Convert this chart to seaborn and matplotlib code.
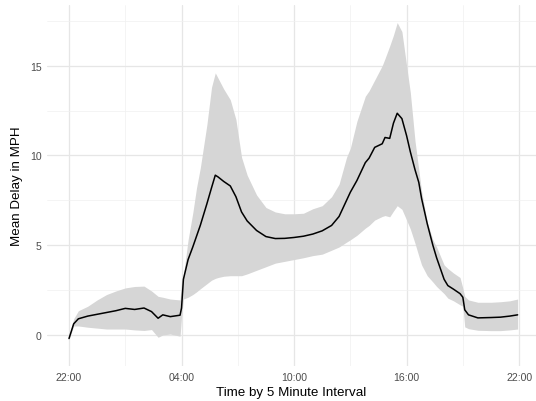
import numpy as np
import pandas as pd
import seaborn as sns
import matplotlib
matplotlib.use("Agg")
import matplotlib.pyplot as plt
from matplotlib.ticker import MultipleLocator

# hours after 22:00
hours = [0, 0.25, 0.5, 1.0, 1.5, 2.0, 2.5, 3.0, 3.5, 4.0, 4.4, 4.75, 5.0, 5.4, 5.92,
         6.0, 6.1, 6.35, 6.6, 6.8, 7.0, 7.35, 7.6, 7.8, 7.95, 8.25, 8.6, 8.9, 9.2, 9.5,
         10.0, 10.5, 11.0, 11.5, 12.0, 12.5, 13.0, 13.5, 14.0, 14.4, 14.8, 15.0, 15.35,
         15.8, 16.0, 16.3, 16.7, 16.85, 17.1, 17.3, 17.5, 17.75, 18.0, 18.2, 18.45, 18.65,
         18.8, 19.1, 19.4, 19.6, 20.0, 20.2, 20.5, 20.85, 21.0, 21.1, 21.3, 21.8, 22.5,
         23.0, 23.5, 23.92]

mean_delay = [-0.2, 0.62, 0.9, 1.05, 1.15, 1.25, 1.35, 1.48, 1.42, 1.5, 1.3, 0.93, 1.12, 1.02, 1.1,
              1.5, 3.1, 4.2, 4.9, 5.5, 6.1, 7.3, 8.2, 8.9, 8.8, 8.55, 8.3, 7.7, 6.85, 6.35,
              5.82, 5.48, 5.37, 5.38, 5.43, 5.5, 5.62, 5.8, 6.1, 6.6, 7.5, 7.95, 8.6,
              9.6, 9.85, 10.45, 10.65, 11.0, 10.95, 11.8, 12.35, 12.05, 11.1, 10.2, 9.2, 8.5,
              7.6, 6.2, 5.0, 4.3, 3.1, 2.75, 2.55, 2.3, 2.1, 1.4, 1.12, 0.95, 0.97,
              0.99, 1.05, 1.12]

lower = [-0.25, 0.5, 0.5, 0.43, 0.38, 0.33, 0.33, 0.33, 0.28, 0.25, 0.3, -0.13, 0.0, 0.05, -0.07,
         1.0, 2.0, 2.1, 2.25, 2.4, 2.57, 2.85, 3.05, 3.15, 3.2, 3.27, 3.3, 3.3, 3.3, 3.4,
         3.6, 3.8, 4.0, 4.1, 4.2, 4.3, 4.42, 4.5, 4.72, 4.9, 5.17, 5.3, 5.55,
         5.95, 6.1, 6.4, 6.6, 6.65, 6.58, 6.9, 7.2, 7.0, 6.4, 5.9, 5.1, 4.4,
         3.9, 3.3, 2.95, 2.7, 2.3, 2.05, 1.9, 1.68, 1.6, 0.45, 0.35, 0.26, 0.24,
         0.24, 0.28, 0.33]

upper = [-0.1, 0.9, 1.35, 1.6, 1.95, 2.25, 2.45, 2.62, 2.7, 2.72, 2.45, 2.15, 2.1, 2.0, 1.95,
         3.0, 3.3, 5.3, 6.8, 8.2, 9.3, 11.7, 13.8, 14.6, 14.3, 13.7, 13.1, 12.0, 9.9, 8.9,
         7.8, 7.1, 6.85, 6.75, 6.75, 6.78, 7.03, 7.2, 7.7, 8.4, 9.9, 10.4, 11.9,
         13.3, 13.6, 14.2, 15.0, 15.4, 16.1, 16.7, 17.4, 16.9, 15.0, 13.5, 10.8, 9.2,
         8.0, 6.3, 5.3, 4.9, 3.9, 3.7, 3.45, 3.2, 2.6, 2.15, 1.95, 1.82, 1.82,
         1.85, 1.9, 2.0]

tick_hours = [0, 6, 12, 18, 24]
tick_labels = ["22:00", "04:00", "10:00", "16:00", "22:00"]

df = pd.DataFrame({"hour": hours, "mean": mean_delay, "lo": lower, "hi": upper})

sns.set_theme(style="white")
plt.rcParams["font.family"] = ["Liberation Sans", "DejaVu Sans"]

fig = plt.figure(figsize=(5.36, 4.02), dpi=100)
ax = fig.add_axes([46.5 / 536, 1 - 367 / 402, (536 - 46.5) / 536, (367 - 6) / 402])

ax.fill_between(df["hour"], df["lo"], df["hi"], color="#d6d6d6", lw=0, zorder=2)
sns.lineplot(data=df, x="hour", y="mean", color="black", lw=1.1, ax=ax, zorder=3)

ax.set_xlim(-1.2, 24.9)
ax.set_ylim(-1.73, 18.38)
ax.set_xticks(tick_hours)
ax.set_xticklabels(tick_labels)
ax.set_yticks([0, 5, 10, 15])
ax.xaxis.set_minor_locator(MultipleLocator(3))
ax.yaxis.set_minor_locator(MultipleLocator(2.5))

ax.grid(which="major", color="#e6e6e6", lw=0.9, zorder=0)
ax.grid(which="minor", color="#f0f0f0", lw=0.5, zorder=0)
ax.set_axisbelow(True)
sns.despine(ax=ax, left=True, bottom=True)
ax.tick_params(which="both", length=0, labelsize=7.6, labelcolor="#4d4d4d")
ax.tick_params(axis="x", pad=4.3)
ax.tick_params(axis="y", pad=3.4)

ax.set_xlabel("Time by 5 Minute Interval", fontsize=9.6, color="black", labelpad=3)
ax.set_ylabel("Mean Delay in MPH", fontsize=9.6, color="black", labelpad=5)

fig.savefig("out.png", dpi=100)
